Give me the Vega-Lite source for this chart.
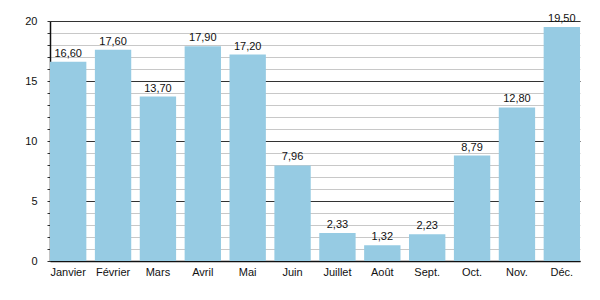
{
  "$schema": "https://vega.github.io/schema/vega-lite/v6.json",
  "autosize": "none",
  "width": 530,
  "height": 240,
  "padding": {"left": 50, "top": 21, "right": 20, "bottom": 39},
  "background": "white",
  "config": {"view": {"stroke": null}, "font": "Liberation Sans"},
  "data": {"values": [
    {"mois": "Janvier", "v": 16.6, "lab": "16,60"},
    {"mois": "Février", "v": 17.6, "lab": "17,60"},
    {"mois": "Mars", "v": 13.7, "lab": "13,70"},
    {"mois": "Avril", "v": 17.9, "lab": "17,90"},
    {"mois": "Mai", "v": 17.2, "lab": "17,20"},
    {"mois": "Juin", "v": 7.96, "lab": "7,96"},
    {"mois": "Juillet", "v": 2.33, "lab": "2,33"},
    {"mois": "Août", "v": 1.32, "lab": "1,32"},
    {"mois": "Sept.", "v": 2.23, "lab": "2,23"},
    {"mois": "Oct.", "v": 8.79, "lab": "8,79"},
    {"mois": "Nov.", "v": 12.8, "lab": "12,80"},
    {"mois": "Déc.", "v": 19.5, "lab": "19,50"}
  ]},
  "encoding": {
    "x": {"field": "mois", "type": "nominal", "sort": null,
      "scale": {"paddingInner": 0.19, "paddingOuter": 0},
      "axis": {"title": null, "labelAngle": 0, "ticks": false, "domainColor": "#111", "domainWidth": 1.5, "labelFontSize": 11, "labelColor": "#111", "labelPadding": 5}},
    "y": {"field": "v", "type": "quantitative", "scale": {"domain": [0, 20], "nice": false}, "axis": null}
  },
  "layer": [
    {
      "mark": {"type": "bar", "color": "#96cbe3"},
      "encoding": {
        "y": {"field": "v", "type": "quantitative", "scale": {"domain": [0, 20], "nice": false},
          "axis": {"orient": "left", "title": null, "values": [0,1,2,3,4,5,6,7,8,9,10,11,12,13,14,15,16,17,18,19,20], "labels": false, "grid": true, "gridColor": "#c8c8c8", "gridWidth": 1, "tickSize": 3, "tickColor": "#333", "domainColor": "#111", "domainWidth": 1.5, "zindex": 0}}
      }
    },
    {
      "mark": {"type": "rule", "opacity": 0},
      "encoding": {
        "y": {"field": "v", "type": "quantitative",
          "axis": {"orient": "left", "title": null, "values": [0,5,10,15,20], "grid": true, "gridColor": "#333", "gridWidth": 1, "tickSize": 0, "domain": false, "labelPadding": 13, "labelFontSize": 11, "labelColor": "#111", "zindex": 0}}
      }
    },
    {
      "mark": {"type": "text", "baseline": "bottom", "dy": -3, "fontSize": 11, "color": "#111"},
      "encoding": {"text": {"field": "lab"}}
    }
  ],
  "resolve": {"axis": {"y": "independent"}}
}
